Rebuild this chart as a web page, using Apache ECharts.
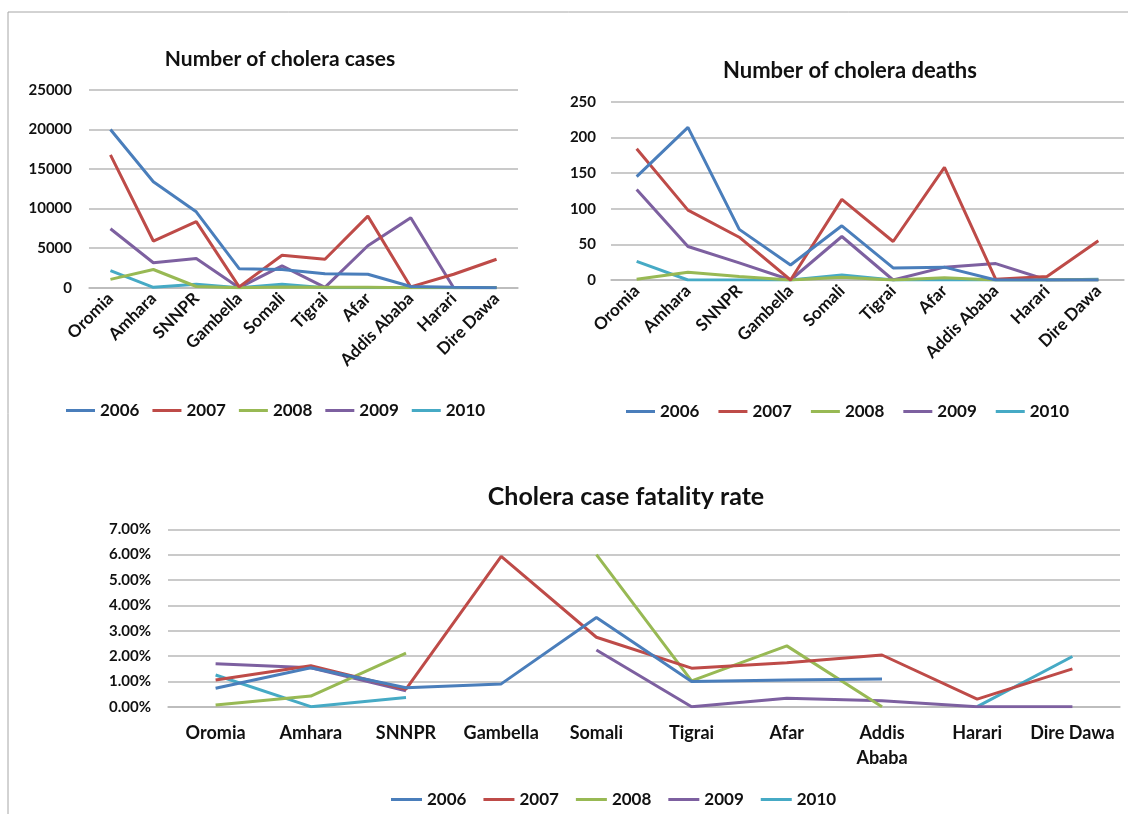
<!DOCTYPE html>
<html>
<head>
<meta charset="utf-8">
<script src="https://cdn.jsdelivr.net/npm/echarts@6/dist/echarts.min.js"></script>
<style>
html,body{margin:0;padding:0;background:#fff;}
#c{width:1128px;height:814px;}
</style>
</head>
<body>
<div id="c"></div>
<script>
const categories = ['Oromia','Amhara','SNNPR','Gambella','Somali','Tigrai','Afar','Addis Ababa','Harari','Dire Dawa'];
const years = ['2006','2007','2008','2009','2010'];
const colors = ['#4a7ebb','#be4b48','#98b954','#7d60a0','#46aac5'];

// Number of cholera cases
const cases2006 = [20000, 13400, 9600, 2400, 2300, 1750, 1700, 150, 50, 0];
const cases2007 = [16800, 5900, 8350, 100, 4100, 3600, 9050, 100, 1700, 3600];
const cases2008 = [1050, 2300, 150, 0, 100, 50, 50, 0, 0, 0];
const cases2009 = [7450, 3150, 3700, 0, 2750, 50, 5300, 8850, 0, 0];
const cases2010 = [2150, 50, 450, 0, 450, 0, 0, 0, 0, 0];

// Number of cholera deaths
const deaths2006 = [145, 214, 71, 21, 76, 17, 18, 0, 0, 0];
const deaths2007 = [184, 98, 60, 0, 113, 54, 158, 1, 5, 55];
const deaths2008 = [1, 11, 5, 0, 4, 0, 3, 0, 0, 0];
const deaths2009 = [127, 47, 24, 0, 61, 0, 18, 23, 0, 0];
const deaths2010 = [26, 0, 0, 0, 7, 0, 0, 0, 0, 1];

// Cholera case fatality rate (%)
const cfr2006 = [0.73, 1.54, 0.75, 0.90, 3.52, 0.99, 1.05, 1.09, null, null];
const cfr2007 = [1.05, 1.62, 0.69, 5.93, 2.74, 1.52, 1.73, 2.04, 0.30, 1.49];
const cfr2008 = [0.07, 0.42, 2.11, null, 6.00, 1.02, 2.40, 0, null, null];
const cfr2009 = [1.69, 1.54, 0.63, null, 2.24, 0, 0.33, 0.23, 0, 0];
const cfr2010 = [1.25, 0, 0.36, null, null, null, null, null, 0, 1.98];

const yTicks1 = {min:0, max:25000, interval:5000};
const yTicks2 = {min:0, max:250, interval:50};
const yTicks3 = {min:0, max:7, interval:1};

const FONT = 'Lato, "Open Sans", sans-serif';
const gridColor = '#b9b9b9';

const groups = [
  [cases2006, cases2007, cases2008, cases2009, cases2010],
  [deaths2006, deaths2007, deaths2008, deaths2009, deaths2010],
  [cfr2006, cfr2007, cfr2008, cfr2009, cfr2010]
];

const series = [];
groups.forEach((g, gi) => {
  g.forEach((d, i) => {
    series.push({
      type: 'line', name: years[i], xAxisIndex: gi, yAxisIndex: gi,
      data: d, symbol: 'none', connectNulls: false,
      lineStyle: {width: 3, color: colors[i]},
      itemStyle: {color: colors[i]},
      z: 10 - i
    });
  });
});

function yAxis(gi, t, fmt, margin) {
  return {
    type: 'value', gridIndex: gi, min: t.min, max: t.max, interval: t.interval,
    axisLine: {show: false}, axisTick: {show: false},
    splitLine: {lineStyle: {color: gridColor, width: 1.5}},
    axisLabel: {color: '#111', fontFamily: FONT, fontWeight: 'bold', fontSize: 15, margin: margin, formatter: fmt}
  };
}
function xAxis(gi, rotate, fontSize, fmt) {
  return {
    type: 'category', gridIndex: gi, data: categories, boundaryGap: true,
    axisLine: {lineStyle: {color: gridColor, width: 1.5}},
    axisTick: {show: false},
    axisLabel: {color: '#111', fontFamily: FONT, fontWeight: 'bold', fontSize: fontSize,
      rotate: rotate, margin: rotate ? 8 : 14, interval: 0, formatter: fmt, lineHeight: 25}
  };
}
function legend(left, top, gap, w) {
  return {
    data: years, left: left, top: top, icon: 'rect', itemWidth: w, itemHeight: 3,
    itemGap: gap, textStyle: {color: '#111', fontFamily: FONT, fontWeight: 'bold', fontSize: 17}
  };
}

const option = {
  animation: false,
  color: colors,
  graphic: [{type: 'rect', shape: {x: 8, y: 12, width: 1140, height: 820},
    style: {fill: 'none', stroke: '#a6a6a6', lineWidth: 1}, silent: true}],
  title: [
    {text: 'Number of cholera cases', left: 275, top: 44, textAlign: 'center',
      textStyle: {fontFamily: FONT, fontWeight: 'bold', fontSize: 21, color: '#111'}},
    {text: 'Number of cholera deaths', left: 845, top: 55, textAlign: 'center',
      textStyle: {fontFamily: FONT, fontWeight: 'bold', fontSize: 22, color: '#111'}},
    {text: 'Cholera case fatality rate', left: 621, top: 479, textAlign: 'center',
      textStyle: {fontFamily: FONT, fontWeight: 'bold', fontSize: 25, color: '#111'}}
  ],
  legend: [
    legend(61, 397, 13, 29),
    legend(621, 398, 19, 29),
    legend(386, 786, 17, 31)
  ],
  grid: [
    {left: 89, top: 90, width: 429, height: 197.7},
    {left: 611, top: 101.7, width: 513, height: 178.3},
    {left: 168, top: 529.3, width: 952, height: 177.4}
  ],
  xAxis: [
    xAxis(0, 45, 17),
    xAxis(1, 45, 17),
    xAxis(2, 0, 18, v => v === 'Addis Ababa' ? 'Addis\nAbaba' : v)
  ],
  yAxis: [
    yAxis(0, yTicks1, v => String(v), 17),
    yAxis(1, yTicks2, v => String(v), 15),
    yAxis(2, yTicks3, v => v.toFixed(2) + '%', 17)
  ],
  series: series
};

const chart = echarts.init(document.getElementById('c'), null, {renderer: 'canvas'});
chart.setOption(option);
</script>
</body>
</html>
